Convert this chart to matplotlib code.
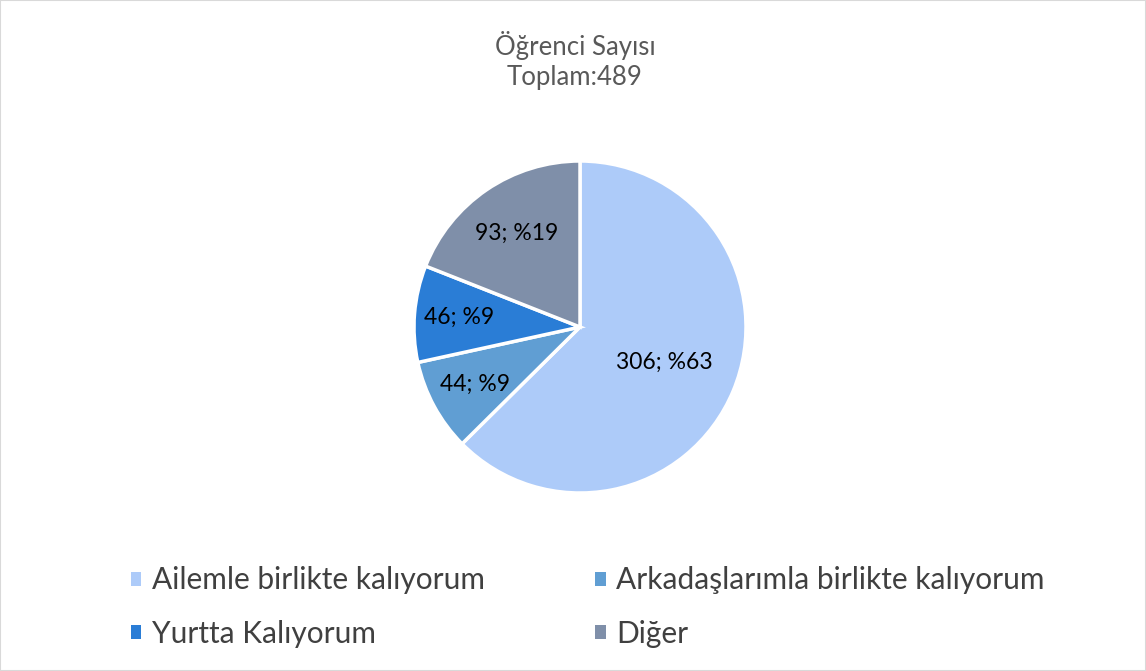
import matplotlib
matplotlib.use("Agg")
import matplotlib.pyplot as plt
import numpy as np
from matplotlib.patches import Rectangle

plt.rcParams['font.family'] = ['Lato', 'DejaVu Sans']

categories = ["Ailemle birlikte kalıyorum", "Arkadaşlarımla birlikte kalıyorum",
              "Yurtta Kalıyorum", "Diğer"]
values = [306, 44, 46, 93]
percents = [63, 9, 9, 19]
colors = ["#ADCBF9", "#609ED3", "#2A7DD6", "#7F8FA9"]
title_lines = ["Öğrenci Sayısı", "Toplam:489"]

W, H = 1146, 671
fig = plt.figure(figsize=(W / 100, H / 100), dpi=100)
fig.patches.append(Rectangle((0, 0), 1, 1, transform=fig.transFigure,
                             fill=False, edgecolor="#D9D9D9", linewidth=1.5))

cx, cy, r = 580, 327, 166
ax = fig.add_axes([(cx - r) / W, (H - cy - r) / H, 2 * r / W, 2 * r / H])
wedges, _ = ax.pie(values, colors=colors, startangle=90, counterclock=False,
                   wedgeprops=dict(edgecolor="white", linewidth=2.5))
ax.set_xlim(-1, 1)
ax.set_ylim(-1, 1)
ax.set_aspect("equal")

dists = [0.55, 0.72, 0.73, 0.68]
for w, v, p, d in zip(wedges, values, percents, dists):
    ang = np.deg2rad((w.theta1 + w.theta2) / 2)
    ax.text(d * np.cos(ang), d * np.sin(ang), f"{v}; %{p}", ha="center",
            va="center", fontsize=16.5, color="black")

fig.text(575 / W, 1 - 45 / H, title_lines[0], ha="center", va="center",
         fontsize=18.5, color="#595959")
fig.text(575 / W, 1 - 78 / H, title_lines[1], ha="center", va="center",
         fontsize=18.5, color="#595959")

handles = [Rectangle((0, 0), 1, 1, facecolor=c, edgecolor="none") for c in colors]
# legend fills column by column: reorder so rows read as in the reference
order = [0, 2, 1, 3]
leg = fig.legend([handles[i] for i in order], [categories[i] for i in order],
                 ncol=2, loc="center left",
                 bbox_to_anchor=(131 / W, 1 - 607 / H), frameon=False,
                 fontsize=21.5, labelcolor="#404040", handlelength=0.35,
                 handleheight=0.35, handletextpad=0.35, columnspacing=3.7,
                 labelspacing=0.85, borderpad=0, borderaxespad=0)

fig.savefig("out.png", dpi=100)
